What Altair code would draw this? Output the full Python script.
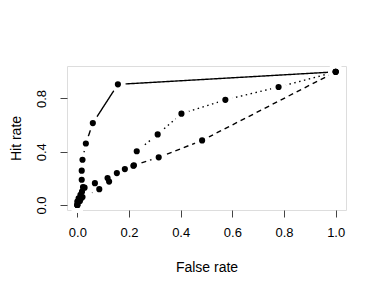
import altair as alt
import pandas as pd

# Series A (solid)
a_x = [0.0, 0.0, 0.005, 0.012, 0.018, 0.022, 0.017, 0.017, 0.02, 0.033, 0.06, 0.157, 1.0]
a_y = [0.0, 0.025, 0.05, 0.076, 0.10, 0.134, 0.19, 0.258, 0.34, 0.462, 0.615, 0.906, 1.0]
# Series B (dotted)
b_x = [0.0, 0.01, 0.02, 0.085, 0.123, 0.184, 0.217, 0.23, 0.311, 0.403, 0.573, 0.779, 1.0]
b_y = [0.0, 0.03, 0.06, 0.119, 0.176, 0.27, 0.295, 0.404, 0.53, 0.686, 0.79, 0.886, 1.0]
# Series C (dashed)
c_x = [0.0, 0.015, 0.028, 0.068, 0.117, 0.153, 0.219, 0.315, 0.483, 1.0]
c_y = [0.0, 0.05, 0.13, 0.164, 0.202, 0.24, 0.298, 0.358, 0.485, 1.0]

x_ticks = [0.0, 0.2, 0.4, 0.6, 0.8, 1.0]
y_ticks = [0.0, 0.4, 0.8]

rows = []
for name, xs, ys in [("A", a_x, a_y), ("B", b_x, b_y), ("C", c_x, c_y)]:
    for i, (xv, yv) in enumerate(zip(xs, ys)):
        rows.append({"series": name, "order": i, "fx": xv, "hy": yv})
df = pd.DataFrame(rows)

font = "Liberation Sans"
xscale = alt.Scale(domain=[-0.04, 1.04], nice=False, zero=False)
yscale = alt.Scale(domain=[-0.0375, 1.044], nice=False, zero=False)

xenc = alt.X("fx:Q", scale=xscale, axis=alt.Axis(
    values=x_ticks, format=".1f", title="False rate", grid=False, domain=False,
    tickSize=7, tickColor="#444", labelFont=font, labelFontSize=13, labelColor="black",
    labelPadding=9, titleFont=font, titleFontSize=14, titleFontWeight="normal",
    titleColor="black", titlePadding=21, labelFlush=False))
yenc = alt.Y("hy:Q", scale=yscale, axis=alt.Axis(
    values=y_ticks, format=".1f", title="Hit rate", grid=False, domain=False,
    tickSize=7, tickColor="#444", labelFont=font, labelFontSize=13, labelColor="black",
    labelAngle=270, labelAlign="center", labelBaseline="bottom", labelPadding=12,
    titleFont=font, titleFontSize=14, titleFontWeight="normal", titleColor="black",
    titlePadding=12, labelFlush=False))

base = alt.Chart(df)

dash_scale = alt.Scale(domain=["A", "B", "C"], range=[[1, 0], [1.5, 3.5], [5, 4]])

lines = base.mark_line(color="black", strokeWidth=1.4).encode(
    x=xenc, y=yenc, detail="series:N", order="order:Q",
    strokeDash=alt.StrokeDash("series:N", scale=dash_scale, legend=None))

halo = base.mark_point(shape="circle", filled=True, fill="white", fillOpacity=1,
                       opacity=1, strokeWidth=0, size=240).encode(
    x="fx:Q", y="hy:Q")

pts = base.mark_point(shape="circle", filled=True, fill="black", fillOpacity=1,
                      opacity=1, strokeWidth=0, size=38).encode(
    x="fx:Q", y="hy:Q")

chart = alt.layer(lines, halo, pts).properties(
    width=279, height=144,
    autosize=alt.AutoSizeParams(type="none"),
    padding={"left": 59, "top": 58, "right": 28, "bottom": 76},
).configure_view(stroke="black", strokeWidth=1.2).configure(background="white")

chart.save("out.html", embed_options={"renderer": "svg", "actions": False})
